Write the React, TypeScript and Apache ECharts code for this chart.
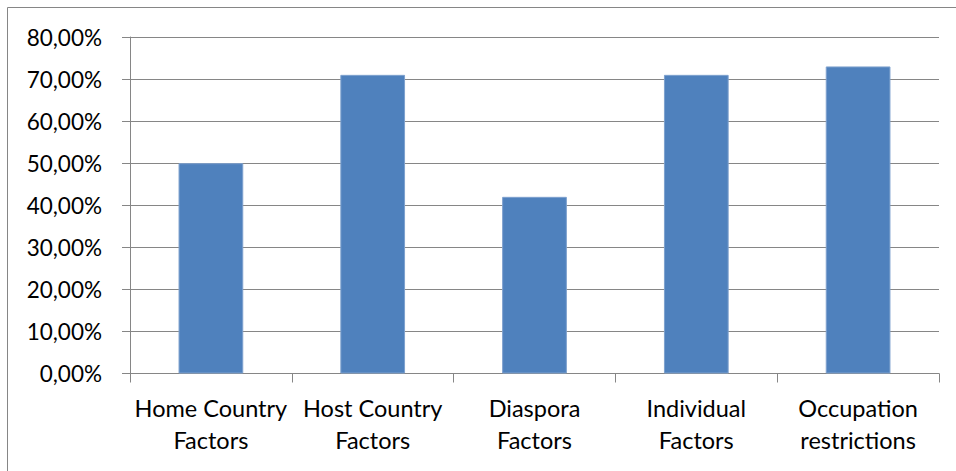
import React, { useEffect, useRef } from "react";
import * as echarts from "echarts";

const categories = [
  "Home Country\nFactors",
  "Host Country\nFactors",
  "Diaspora\nFactors",
  "Individual\nFactors",
  "Occupation\nrestrictions",
];
const shares = [50.0, 71.0, 42.0, 71.0, 73.0];
const yTicks = { min: 0, max: 80, interval: 10 };

const FONT = "Lato, 'Open Sans', sans-serif";
const GRAY = "#868686";

export default function App() {
  const ref = useRef<HTMLDivElement>(null);

  useEffect(() => {
    if (!ref.current) return;
    const chart = echarts.init(ref.current, null, { renderer: "svg" });
    chart.setOption({
      animation: false,
      backgroundColor: "#ffffff",
      graphic: [
        {
          type: "rect",
          shape: { x: 7.5, y: 7.5, width: 960, height: 480 },
          style: { fill: "none", stroke: GRAY, lineWidth: 1 },
          silent: true,
        },
      ],
      grid: { left: 130, right: 17, top: 37, bottom: 97.5, containLabel: false },
      xAxis: {
        type: "category",
        data: categories,
        axisLine: { lineStyle: { color: GRAY, width: 1 } },
        axisTick: { show: true, length: 9, lineStyle: { color: GRAY }, alignWithLabel: false },
        axisLabel: {
          color: "#000",
          fontFamily: FONT,
          fontSize: 23.5,
          lineHeight: 32,
          margin: 18,
          interval: 0,
        },
      },
      yAxis: {
        type: "value",
        min: yTicks.min,
        max: yTicks.max,
        interval: yTicks.interval,
        axisLine: { show: true, lineStyle: { color: GRAY, width: 1 } },
        axisTick: { show: true, length: 8, lineStyle: { color: GRAY } },
        splitLine: { lineStyle: { color: GRAY, width: 1 } },
        axisLabel: {
          color: "#000",
          fontFamily: FONT,
          fontSize: 22.5,
          margin: 28,
          formatter: (v: number) => v.toFixed(2).replace(".", ",") + "%",
        },
      },
      series: [
        {
          type: "bar",
          data: shares,
          barWidth: "40%",
          itemStyle: { color: "#4F81BD", borderColor: "#7EA1CE", borderWidth: 1 },
        },
      ],
    });
    return () => chart.dispose();
  }, []);

  return (
    <div
      ref={ref}
      style={{ position: "absolute", left: 0, top: 0, width: 956, height: 471 }}
    />
  );
}
